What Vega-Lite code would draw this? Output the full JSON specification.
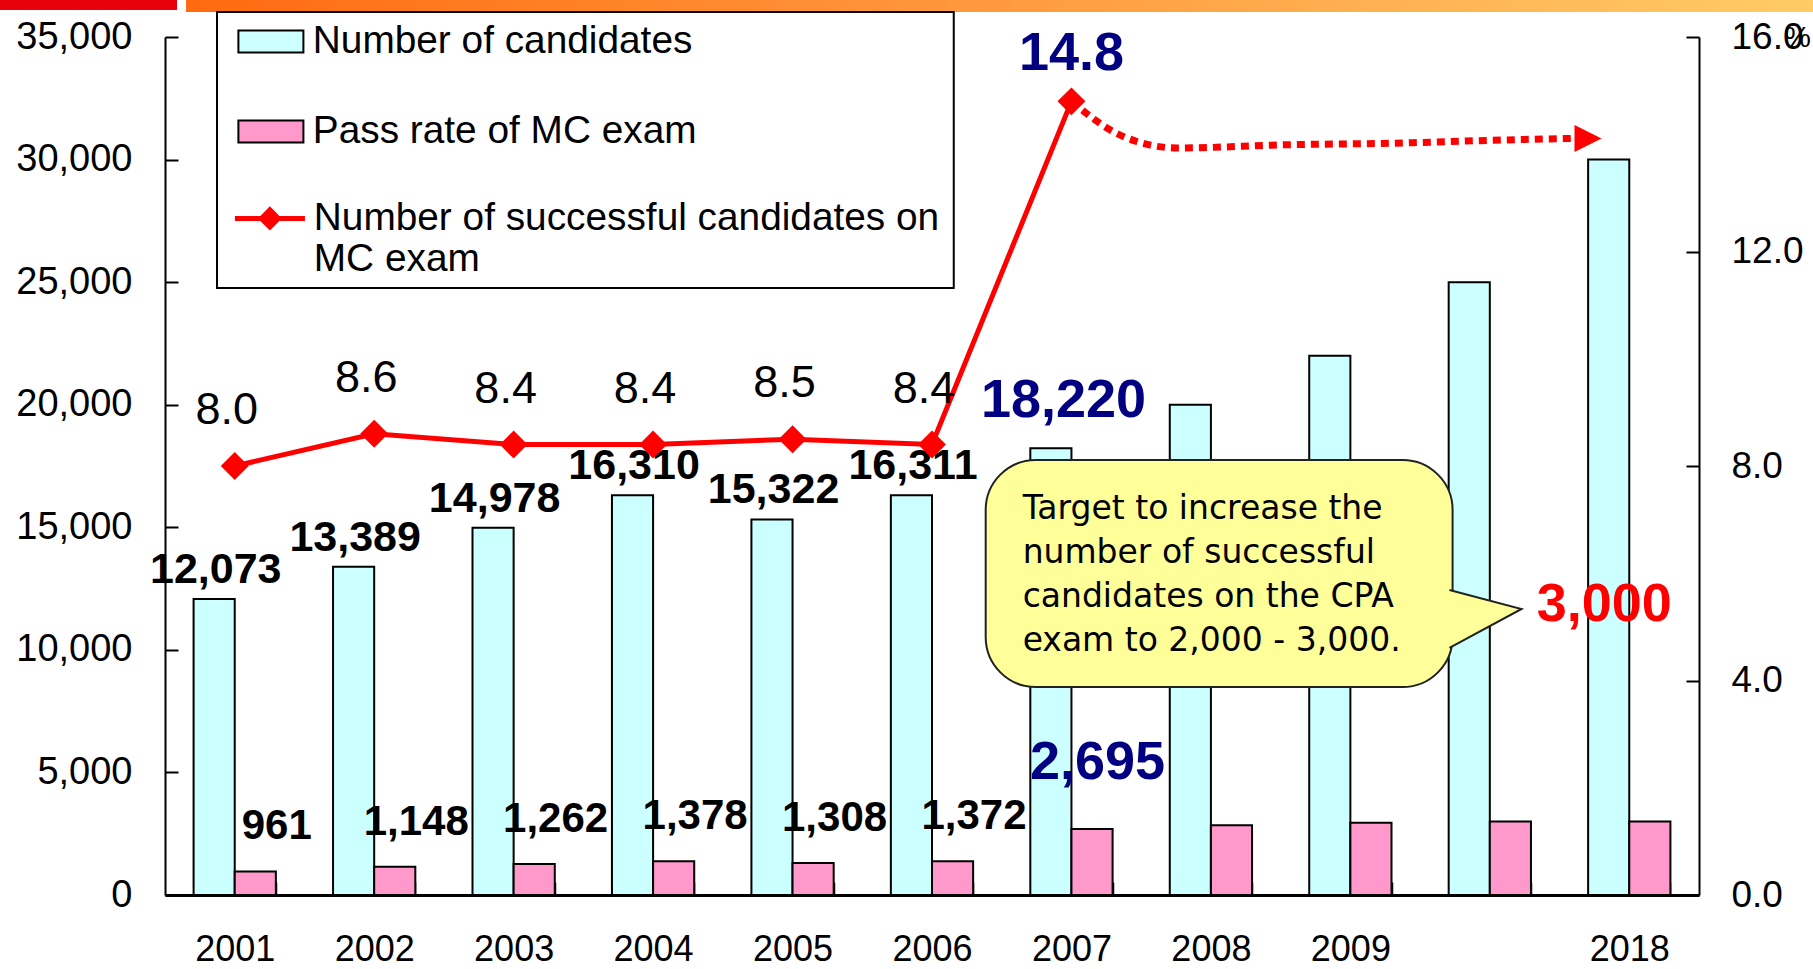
{
  "$schema": "https://vega.github.io/schema/vega-lite/v6.json",
  "width": 1534,
  "height": 858,
  "autosize": {"type": "none"},
  "padding": {"left": 165, "top": 37, "right": 114, "bottom": 74},
  "background": "#ffffff",
  "config": {
    "view": {"stroke": null},
    "axis": {"labelFont": "Liberation Sans", "labelColor": "#000000", "domainColor": "#000000", "tickColor": "#000000", "grid": false}
  },
  "layer": [
    {
      "data": {
        "values": [
          {"year": "2001", "cand": 12073, "succ": 961, "rate": 8.0},
          {"year": "2002", "cand": 13389, "succ": 1148, "rate": 8.6},
          {"year": "2003", "cand": 14978, "succ": 1262, "rate": 8.4},
          {"year": "2004", "cand": 16310, "succ": 1378, "rate": 8.4},
          {"year": "2005", "cand": 15322, "succ": 1308, "rate": 8.5},
          {"year": "2006", "cand": 16311, "succ": 1372, "rate": 8.4},
          {"year": "2007", "cand": 18220, "succ": 2695, "rate": 14.8},
          {"year": "2008", "cand": 20000, "succ": 2850, "rate": null},
          {"year": "2009", "cand": 22000, "succ": 2950, "rate": null},
          {"year": " ", "cand": 25000, "succ": 3000, "rate": null},
          {"year": "2018", "cand": 30000, "succ": 3000, "rate": null}
        ]
      },
      "encoding": {
        "x": {
          "field": "year", "type": "nominal", "title": null,
          "scale": {"domain": ["2001", "2002", "2003", "2004", "2005", "2006", "2007", "2008", "2009", " ", "2018"], "paddingInner": 0.41, "paddingOuter": 0.205},
          "axis": {"orient": "bottom", "title": null, "labelAngle": 0, "labelFontSize": 36, "labelPadding": 50, "tickSize": -13, "tickWidth": 1.5, "tickBand": "extent", "domainWidth": 3}
        }
      },
      "layer": [
        {
          "transform": [{"fold": ["cand", "succ"], "as": ["key", "value"]}],
          "mark": {"type": "bar", "stroke": "#000000", "strokeWidth": 2},
          "encoding": {
            "xOffset": {"field": "key", "type": "nominal", "scale": {"domain": ["cand", "succ"], "paddingInner": 0, "paddingOuter": 0}},
            "y": {
              "field": "value", "type": "quantitative",
              "scale": {"domain": [0, 35000], "nice": false},
              "axis": {"orient": "left", "title": null, "values": [0, 5000, 10000, 15000, 20000, 25000, 30000, 35000], "format": ",.0f", "labelFontSize": 38, "labelPadding": 46, "tickSize": -13, "tickWidth": 2, "domainWidth": 2}
            },
            "color": {
              "field": "key", "type": "nominal",
              "scale": {"domain": ["cand", "succ"], "range": ["#CCFFFF", "#FF99CC"]},
              "legend": {
                "orient": "none", "legendX": 52, "legendY": -25, "title": null, "direction": "vertical", "columns": 1,
                "padding": 10,
                "labelFont": "Liberation Sans", "labelFontSize": 38.8, "labelColor": "#000000", "labelLimit": 1000,
                "labelOffset": 47, "symbolSize": 400, "symbolStrokeWidth": 2, "symbolStrokeColor": "#000000", "symbolOpacity": 1,
                "symbolType": "M-0.8,-1.1L5.7,-1.1L5.7,1.1L-0.8,1.1Z", "rowPadding": 50,
                "labelExpr": "datum.label == 'cand' ? 'Number of candidates' : 'Pass rate of MC exam'"
              }
            }
          }
        },
        {
          "transform": [{"filter": "indexof(['2001','2002','2003','2004','2005','2006'], datum.year) >= 0"}],
          "mark": {"type": "text", "font": "Liberation Sans", "fontSize": 43, "fontWeight": "bold", "color": "#000000", "baseline": "middle", "dx": -19, "dy": -29},
          "encoding": {
            "y": {"field": "cand", "type": "quantitative", "scale": {"domain": [0, 35000], "nice": false}, "axis": null},
            "text": {"field": "cand", "type": "quantitative", "format": ","}
          }
        },
        {
          "transform": [{"filter": "datum.year == '2007'"}],
          "mark": {"type": "text", "font": "Liberation Sans", "fontSize": 54, "fontWeight": "bold", "color": "#000080", "baseline": "middle", "dx": -8, "dy": -47},
          "encoding": {
            "y": {"field": "cand", "type": "quantitative", "scale": {"domain": [0, 35000], "nice": false}, "axis": null},
            "text": {"field": "cand", "type": "quantitative", "format": ","}
          }
        },
        {
          "transform": [{"filter": "indexof(['2001','2002','2003','2004','2005','2006'], datum.year) >= 0"}],
          "mark": {"type": "text", "font": "Liberation Sans", "fontSize": 42, "fontWeight": "bold", "color": "#000000", "baseline": "middle", "dx": 42, "dy": -45},
          "encoding": {
            "y": {"field": "succ", "type": "quantitative", "scale": {"domain": [0, 35000], "nice": false}, "axis": null},
            "text": {"field": "succ", "type": "quantitative", "format": ","}
          }
        },
        {
          "transform": [{"filter": "datum.year == '2007'"}],
          "mark": {"type": "text", "font": "Liberation Sans", "fontSize": 54, "fontWeight": "bold", "color": "#000080", "baseline": "middle", "dx": 26, "dy": -66},
          "encoding": {
            "y": {"field": "succ", "type": "quantitative", "scale": {"domain": [0, 35000], "nice": false}, "axis": null},
            "text": {"field": "succ", "type": "quantitative", "format": ","}
          }
        },
        {
          "transform": [{"filter": "datum.year == '2018'"}],
          "mark": {"type": "text", "font": "Liberation Sans", "fontSize": 54, "fontWeight": "bold", "color": "#FF0000", "baseline": "middle", "dx": -25, "dy": -216},
          "encoding": {
            "y": {"field": "succ", "type": "quantitative", "scale": {"domain": [0, 35000], "nice": false}, "axis": null},
            "text": {"field": "succ", "type": "quantitative", "format": ","}
          }
        },
        {
          "mark": {"type": "line", "color": "#FF0000", "strokeWidth": 5},
          "encoding": {
            "y": {
              "field": "rate", "type": "quantitative",
              "scale": {"domain": [0, 16], "nice": false},
              "axis": {"orient": "right", "values": [0, 4, 8, 12, 16], "format": ".1f", "labelFont": "Liberation Sans Narrow, Liberation Sans", "labelFontSize": 37, "labelPadding": 45, "tickSize": -13, "tickWidth": 2, "domainWidth": 2,
                "title": "%", "titleAngle": 0, "titleX": 98, "titleY": 0, "titleAlign": "center", "titleBaseline": "middle", "titleFont": "Liberation Sans Narrow, Liberation Sans", "titleFontSize": 30, "titleFontWeight": "normal", "titleColor": "#000000"}
            }
          }
        },
        {
          "transform": [{"filter": "datum.rate != null"}],
          "mark": {"type": "point", "shape": "diamond", "size": 780, "filled": true, "color": "#FF0000", "opacity": 1},
          "encoding": {
            "y": {"field": "rate", "type": "quantitative", "scale": {"domain": [0, 16], "nice": false}, "axis": null}
          }
        },
        {
          "transform": [{"filter": "datum.year == '2001'"}],
          "mark": {"type": "point", "filled": false, "color": "#FF0000", "strokeWidth": 5, "opacity": 0},
          "encoding": {
            "y": {"field": "rate", "type": "quantitative", "scale": {"domain": [0, 16], "nice": false}, "axis": null},
            "shape": {
              "datum": "rate", "type": "nominal",
              "scale": {"domain": ["rate"], "range": ["M-1.15,0L5.85,0M1.5,0L2.35,-0.85L3.2,0L2.35,0.85ZM1.95,0L2.35,-0.4L2.75,0L2.35,0.4Z"]},
              "legend": {
                "orient": "none", "legendX": 52, "legendY": 152, "title": null, "direction": "vertical",
                "padding": 10,
                "labelFont": "Liberation Sans", "labelFontSize": 38.8, "labelColor": "#000000", "labelLimit": 1000,
                "labelOffset": 48, "symbolSize": 400, "symbolStrokeWidth": 5, "symbolStrokeColor": "#FF0000", "symbolOpacity": 1,
                "labelExpr": "['Number of successful candidates on', 'MC exam']"
              }
            }
          }
        },
        {
          "transform": [{"filter": "datum.rate != null && datum.year != '2007'"}],
          "mark": {"type": "text", "font": "Liberation Sans", "fontSize": 45, "color": "#000000", "baseline": "middle", "dx": -8, "dy": -56},
          "encoding": {
            "y": {"field": "rate", "type": "quantitative", "scale": {"domain": [0, 16], "nice": false}, "axis": null},
            "text": {"field": "rate", "type": "quantitative", "format": ".1f"}
          }
        },
        {
          "transform": [{"filter": "datum.year == '2007'"}],
          "mark": {"type": "text", "font": "Liberation Sans", "fontSize": 54, "fontWeight": "bold", "color": "#000080", "baseline": "middle", "dx": 0, "dy": -47},
          "encoding": {
            "y": {"field": "rate", "type": "quantitative", "scale": {"domain": [0, 16], "nice": false}, "axis": null},
            "text": {"field": "rate", "type": "quantitative", "format": ".1f"}
          }
        }
      ],
      "resolve": {"scale": {"y": "independent"}}
    },
    {
      "layer": [
        {
          "data": {"values": [{"x0": -1.7, "x1": -0.414, "y0": 36101, "y1": 36600}]},
          "mark": {"type": "rect", "color": "#E8000B"},
          "encoding": {
            "x": {"field": "x0", "type": "quantitative", "scale": {"domain": [-0.5, 10.5], "nice": false, "zero": false}, "axis": null},
            "x2": {"field": "x1"},
            "y": {"field": "y0", "type": "quantitative", "scale": {"domain": [0, 35000], "nice": false}, "axis": null},
            "y2": {"field": "y1"}
          }
        },
        {
          "data": {"values": [{"x0": -0.349, "x1": 11.4, "y0": 36020, "y1": 36600}]},
          "mark": {"type": "rect", "color": {"gradient": "linear", "x1": 0, "x2": 1, "y1": 0, "y2": 0, "stops": [{"offset": 0, "color": "#FF6A10"}, {"offset": 0.5, "color": "#FF9A40"}, {"offset": 1, "color": "#FFCC66"}]}},
          "encoding": {
            "x": {"field": "x0", "type": "quantitative", "scale": {"domain": [-0.5, 10.5], "nice": false, "zero": false}, "axis": null},
            "x2": {"field": "x1"},
            "y": {"field": "y0", "type": "quantitative", "scale": {"domain": [0, 35000], "nice": false}, "axis": null},
            "y2": {"field": "y1"}
          }
        },
        {
          "data": {"values": [{"x0": -0.127, "x1": 5.156, "y0": 24761, "y1": 36020}]},
          "mark": {"type": "rect", "fill": "#FFFFFF", "stroke": "#000000", "strokeWidth": 2},
          "encoding": {
            "x": {"field": "x0", "type": "quantitative", "scale": {"domain": [-0.5, 10.5], "nice": false, "zero": false}, "axis": null},
            "x2": {"field": "x1"},
            "y": {"field": "y0", "type": "quantitative", "scale": {"domain": [0, 35000], "nice": false}, "axis": null},
            "y2": {"field": "y1"}
          }
        },
        {
          "data": {"values": [
            {"idx": 6.0, "rate": 14.8},
            {"idx": 6.35, "rate": 14.17},
            {"idx": 6.76, "rate": 13.93},
            {"idx": 7.54, "rate": 13.99},
            {"idx": 8.32, "rate": 14.02},
            {"idx": 9.10, "rate": 14.08},
            {"idx": 9.61, "rate": 14.11}
          ]},
          "mark": {"type": "line", "color": "#FF0000", "strokeWidth": 7, "strokeDash": [8, 6], "interpolate": "monotone"},
          "encoding": {
            "x": {"field": "idx", "type": "quantitative", "scale": {"domain": [-0.5, 10.5], "nice": false, "zero": false}, "axis": null},
            "y": {"field": "rate", "type": "quantitative", "scale": {"domain": [0, 16], "nice": false}, "axis": null}
          }
        },
        {
          "data": {"values": [{"idx": 9.704, "rate": 14.107}]},
          "mark": {"type": "point", "shape": "M-1,-1L1,0L-1,1Z", "size": 729, "filled": true, "color": "#FF0000", "opacity": 1, "strokeWidth": 0},
          "encoding": {
            "x": {"field": "idx", "type": "quantitative", "scale": {"domain": [-0.5, 10.5], "nice": false, "zero": false}, "axis": null},
            "y": {"field": "rate", "type": "quantitative", "scale": {"domain": [0, 16], "nice": false}, "axis": null}
          }
        },
        {
          "data": {"values": [{"x0": 5.385, "x1": 8.733, "y0": 8485, "y1": 17745}]},
          "mark": {"type": "rect", "fill": "#FFFF99", "stroke": "#222222", "strokeWidth": 2, "cornerRadius": 50},
          "encoding": {
            "x": {"field": "x0", "type": "quantitative", "scale": {"domain": [-0.5, 10.5], "nice": false, "zero": false}, "axis": null},
            "x2": {"field": "x1"},
            "y": {"field": "y0", "type": "quantitative", "scale": {"domain": [0, 35000], "nice": false}, "axis": null},
            "y2": {"field": "y1"}
          }
        },
        {
          "data": {"values": [{"idx": 8.98, "count": 11259}]},
          "mark": {"type": "point", "shape": "M-1.09,-0.84L1,-0.29L-1.09,0.84", "size": 4761, "filled": true, "fill": "#FFFF99", "stroke": "#222222", "strokeWidth": 2, "opacity": 1},
          "encoding": {
            "x": {"field": "idx", "type": "quantitative", "scale": {"domain": [-0.5, 10.5], "nice": false, "zero": false}, "axis": null},
            "y": {"field": "count", "type": "quantitative", "scale": {"domain": [0, 35000], "nice": false}, "axis": null}
          }
        },
        {
          "data": {"values": [{"idx": 5.65, "count": 15746, "text": "Target to increase the\nnumber of successful\ncandidates on the CPA\nexam to 2,000 - 3,000."}]},
          "mark": {"type": "text", "font": "DejaVu Sans", "fontSize": 33, "lineHeight": 44, "lineBreak": "\n", "align": "left", "baseline": "middle", "color": "#000000"},
          "encoding": {
            "x": {"field": "idx", "type": "quantitative", "scale": {"domain": [-0.5, 10.5], "nice": false, "zero": false}, "axis": null},
            "y": {"field": "count", "type": "quantitative", "scale": {"domain": [0, 35000], "nice": false}, "axis": null},
            "text": {"field": "text", "type": "nominal"}
          }
        }
      ],
      "resolve": {"scale": {"y": "independent"}}
    }
  ],
  "resolve": {"scale": {"x": "independent", "y": "independent"}}
}
